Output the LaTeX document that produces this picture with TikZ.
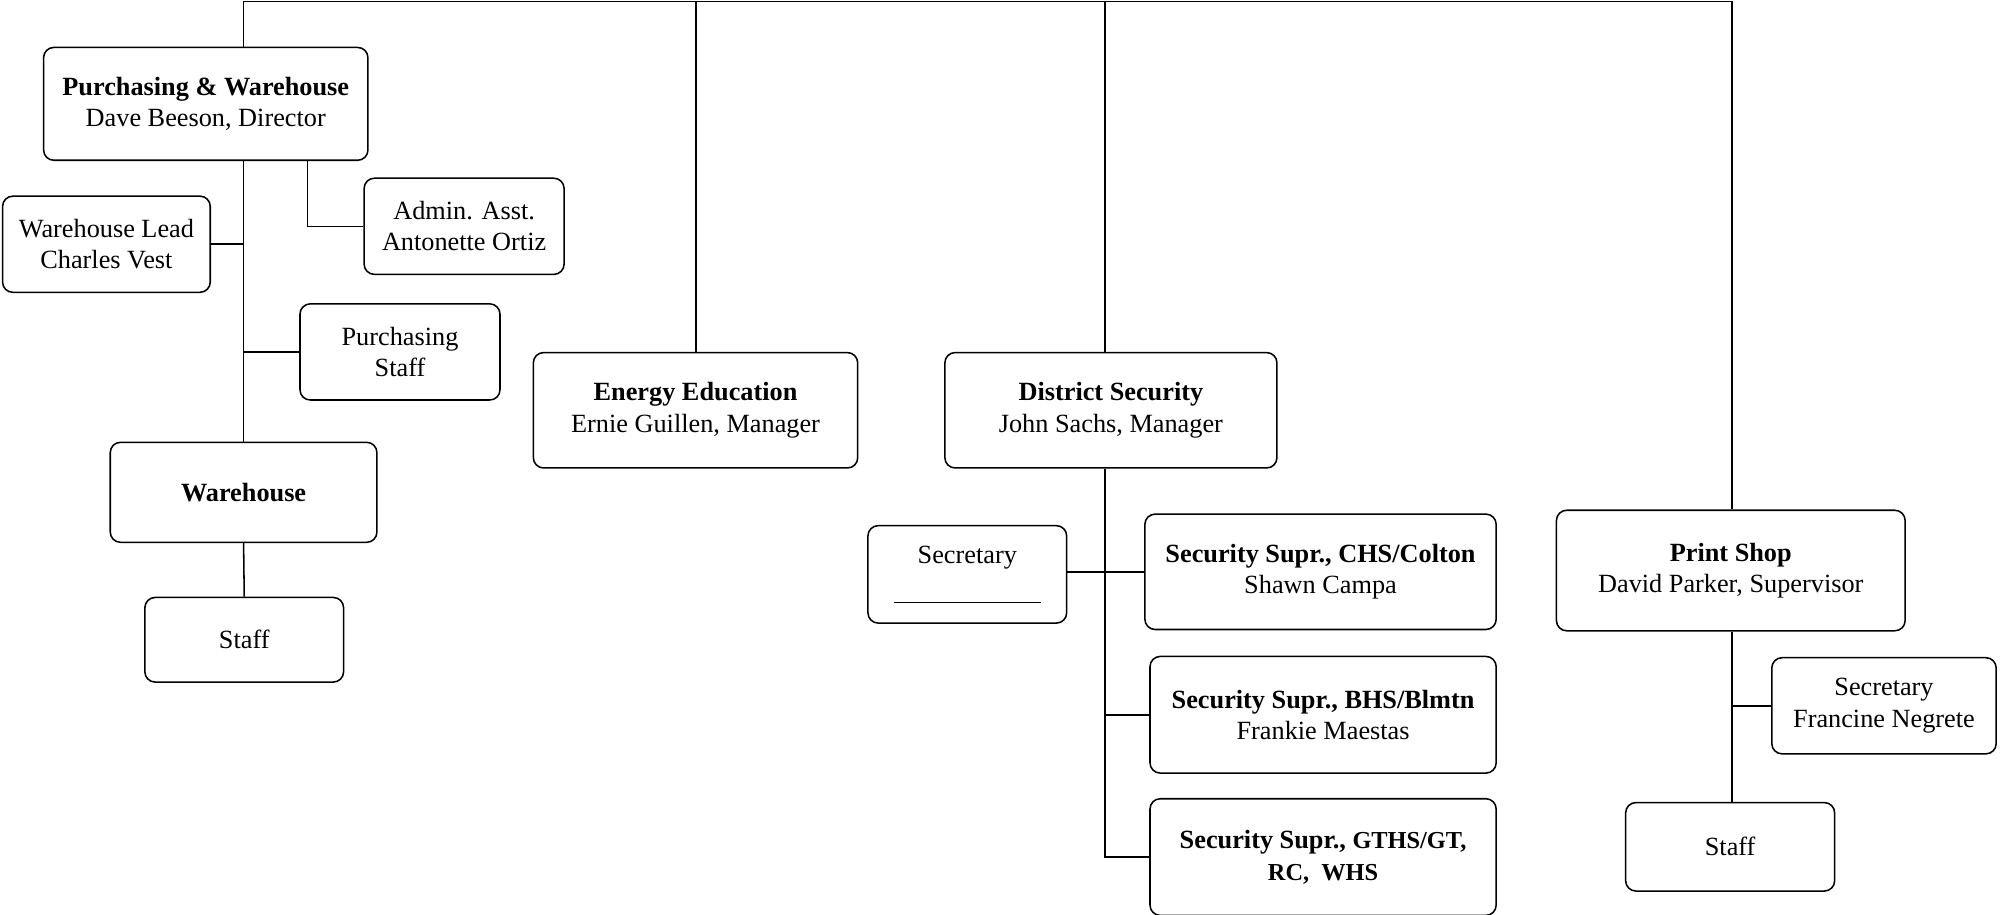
\documentclass[tikz,border=0pt]{standalone}
\usepackage{fontspec}
\setmainfont{Liberation Serif}
\begin{document}
\begin{tikzpicture}[x=1pt,y=-1pt,
  box/.style={draw, line width=1.2pt, rounded corners=8pt, align=center, inner sep=0pt,
    font=\fontsize{20.5}{24.5}\selectfont},
  conn/.style={line width=1.2pt}]
\useasboundingbox (0,0) rectangle (1560,713);
% top-level
\node[box, minimum width=253, minimum height=88] (pw) at (160.5,81) {\textbf{Purchasing \& Warehouse}\\Dave Beeson, Director};
\node[box, minimum width=156, minimum height=75] (admin) at (362,176.5) {Admin. Asst.\\Antonette Ortiz};
\node[box, minimum width=162, minimum height=75] (wl) at (83,190.5) {Warehouse Lead\\Charles Vest};
\node[box, minimum width=156, minimum height=75] (pst) at (312,274.5) {Purchasing\\Staff};
\node[box, minimum width=208, minimum height=78] (wh) at (190,384) {\textbf{Warehouse}};
\node[box, minimum width=155, minimum height=66] (st1) at (190.5,499) {Staff};
\node[box, minimum width=253, minimum height=90] (en) at (542.5,320) {\textbf{Energy Education}\\Ernie Guillen, Manager};
\node[box, minimum width=259, minimum height=90] (ds) at (866.5,320) {\textbf{District Security}\\John Sachs, Manager};
\node[box, minimum width=155, minimum height=76] (sec) at (754.5,448) {Secretary\\[6pt]\rule{115pt}{0.8pt}};
\node[box, minimum width=274, minimum height=90] (s1) at (1030,446) {\textbf{Security Supr., CHS/Colton}\\Shawn Campa};
\node[box, minimum width=270, minimum height=91] (s2) at (1032,557.5) {\textbf{Security Supr., BHS/Blmtn}\\Frankie Maestas};
\node[box, minimum width=270, minimum height=91] (s3) at (1032,668.5) {\textbf{Security Supr., {\fontsize{19}{24.5}\selectfont GTHS/GT,}}\\\textbf{\fontsize{19}{24.5}\selectfont RC,\ \ WHS}};
\node[box, minimum width=272, minimum height=94] (ps) at (1350,445) {\textbf{Print Shop}\\David Parker, Supervisor};
\node[box, minimum width=175, minimum height=75] (sf) at (1469.5,550.5) {Secretary\\Francine Negrete};
\node[box, minimum width=163, minimum height=69] (st2) at (1349.5,660.5) {Staff};
% helper coordinates
\coordinate (pwx) at (190,1);
\coordinate (enx) at (543,1);
\coordinate (dsx) at (862,1);
\coordinate (psx) at (1351,1);
\coordinate (adx) at (240,0);
% top bar and drops
\draw[conn] (pwx |- pw.north) -- (pwx) -- (psx) -- (psx |- ps.north);
\draw[conn] (enx) -- (enx |- en.north);
\draw[conn] (dsx) -- (dsx |- ds.north);
% purchasing & warehouse branch
\draw[conn] (pwx |- pw.south) -- (pwx |- wh.north);
\draw[conn] (adx |- pw.south) |- (admin.west);
\draw[conn] (wl.east) -- (pwx |- wl.east);
\draw[conn] (pst.west) -- (pwx |- pst.west);
\draw[conn] (wh.south) -- (st1.north);
% district security branch
\draw[conn] (dsx |- ds.south) |- (s3.west);
\draw[conn] (dsx |- s2.west) -- (s2.west);
\draw[conn] (sec.east |- s1.west) -- (s1.west);
% print shop branch
\draw[conn] (psx |- ps.south) -- (psx |- st2.north);
\draw[conn] (psx |- sf.west) -- (sf.west);
\end{tikzpicture}
\end{document}
